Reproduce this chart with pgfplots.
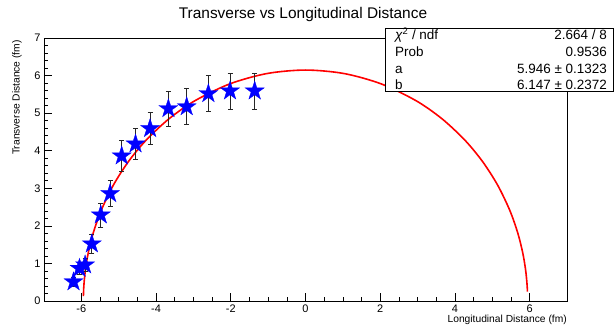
\documentclass[border=0pt]{standalone}
\usepackage{fontspec}
\setmainfont{Liberation Sans}
\usepackage{pgfplots}
\pgfplotsset{compat=1.18}
\usepackage{pgfplotstable}

\pgfdeclareplotmark{fstar}{%
  \pgfpathmoveto{\pgfpointpolar{90}{\pgfplotmarksize}}%
  \pgfpathlineto{\pgfpointpolar{126}{0.382\pgfplotmarksize}}%
  \pgfpathlineto{\pgfpointpolar{162}{\pgfplotmarksize}}%
  \pgfpathlineto{\pgfpointpolar{198}{0.382\pgfplotmarksize}}%
  \pgfpathlineto{\pgfpointpolar{234}{\pgfplotmarksize}}%
  \pgfpathlineto{\pgfpointpolar{270}{0.382\pgfplotmarksize}}%
  \pgfpathlineto{\pgfpointpolar{306}{\pgfplotmarksize}}%
  \pgfpathlineto{\pgfpointpolar{342}{0.382\pgfplotmarksize}}%
  \pgfpathlineto{\pgfpointpolar{18}{\pgfplotmarksize}}%
  \pgfpathlineto{\pgfpointpolar{54}{0.382\pgfplotmarksize}}%
  \pgfpathclose
  \pgfusepathqfillstroke
}

\pgfplotstableread{
x y e
-6.21 0.51 0.12
-6.05 0.87 0.15
-5.90 0.96 0.17
-5.72 1.52 0.25
-5.48 2.29 0.32
-5.23 2.86 0.35
-4.92 3.86 0.41
-4.55 4.18 0.42
-4.16 4.59 0.43
-3.67 5.12 0.47
-3.18 5.17 0.48
-2.60 5.52 0.48
-2.02 5.59 0.48
-1.36 5.59 0.48
}\datatable

\pgfplotstableread{
x y
-5.945 0.129
-5.944 0.161
-5.938 0.322
-5.923 0.536
-5.888 0.855
-5.816 1.278
-5.686 1.797
-5.473 2.402
-5.149 3.074
-4.749 3.699
-4.277 4.270
-3.661 4.844
-2.973 5.323
-2.034 5.776
-1.033 6.054
0.000 6.147
1.033 6.054
2.034 5.776
2.973 5.323
3.661 4.844
4.277 4.270
4.749 3.699
5.149 3.074
5.473 2.402
5.686 1.797
5.816 1.278
5.888 0.855
5.923 0.536
5.938 0.322
5.941 0.247
}\fittable

\begin{document}
\begin{tikzpicture}
\useasboundingbox (0,0) rectangle (615bp,327bp);
\begin{axis}[
  scale only axis,
  width=523bp, height=263bp,
  at={(44bp,26bp)}, anchor=south west,
  xmin=-7, xmax=7, ymin=0, ymax=7,
  xtick={-6,-4,...,6}, ytick={0,1,...,7},
  minor x tick num=3, minor y tick num=4,
  tick align=inside, tick pos=left,
  major tick length=8bp, minor tick length=4bp,
  tick style={black, line width=0.6bp},
  axis line style={black, line width=0.8bp},
  ticklabel style={font=\fontsize{11}{13}\selectfont},
  /pgf/number format/assume math mode=true,
]
\addplot[red, line width=1.6bp, smooth] table[x=x, y=y] {\fittable};
\addplot[only marks, mark=fstar, mark size=10bp,
  mark options={fill=blue, draw=blue, line width=0.3bp},
  error bars/.cd, y dir=both, y explicit,
  error bar style={black!85, line width=0.7bp},
  error mark options={rotate=90, mark size=2.5bp, black!85, line width=0.7bp}]
  table[x=x, y=y, y error=e] {\datatable};
\end{axis}
\node[anchor=base, font=\fontsize{15.5}{18}\selectfont] at (303bp,308bp) {Transverse vs Longitudinal Distance};
\node[anchor=base east, inner sep=0pt, font=\fontsize{10.3}{12}\selectfont] at (567bp,5bp) {Longitudinal Distance (fm)};
\node[anchor=base east, rotate=90, inner sep=0pt, font=\fontsize{10.3}{12}\selectfont] at (19.5bp,287bp) {Transverse Distance (fm)};
\draw[fill=white, line width=0.8bp] (385bp,235.5bp) rectangle (613bp,299bp);
\begin{scope}[every node/.style={inner sep=0pt, font=\fontsize{13.5}{16}\selectfont}]
\node[anchor=base west] at (395bp,287bp) {{\itshape χ}\textsuperscript{2} / ndf};
\node[anchor=base east] at (607bp,287bp) {2.664 / 8};
\node[anchor=base west] at (395bp,270.3bp) {Prob};
\node[anchor=base east] at (607bp,270.3bp) {0.9536};
\node[anchor=base west] at (395bp,253bp) {a};
\node[anchor=base east] at (607bp,253bp) {5.946 ± 0.1323};
\node[anchor=base west] at (395bp,237.5bp) {b};
\node[anchor=base east] at (607bp,237.5bp) {6.147 ± 0.2372};
\end{scope}
\end{tikzpicture}
\end{document}
